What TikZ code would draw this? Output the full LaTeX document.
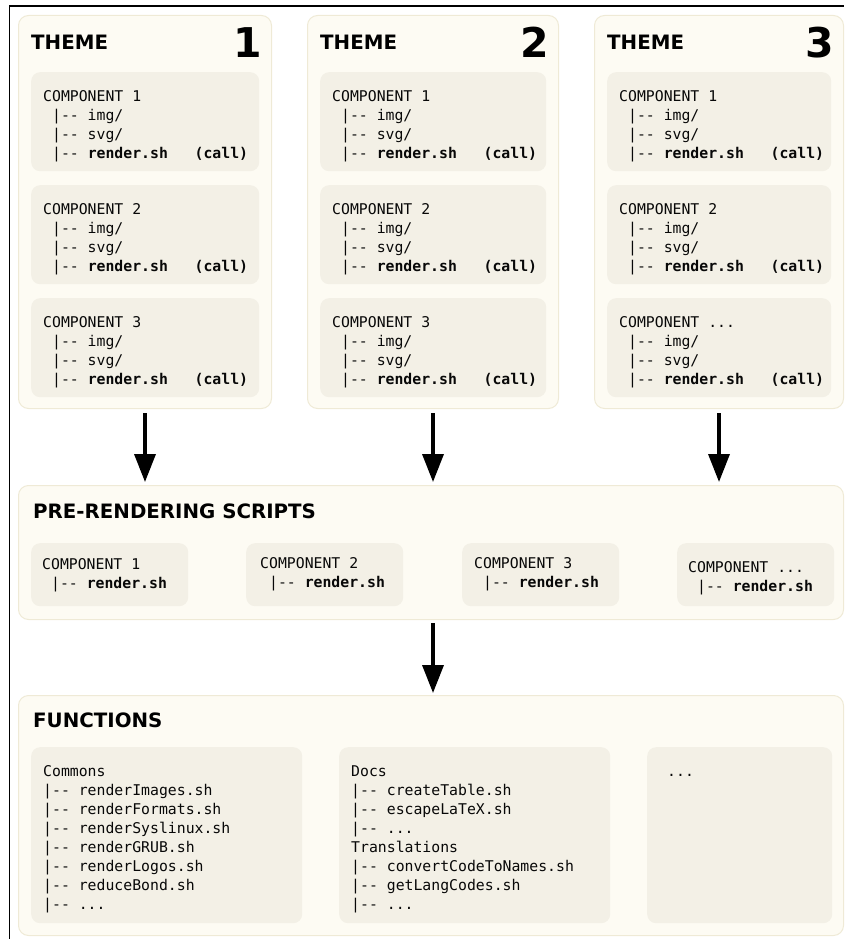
\documentclass[tikz,border=0pt]{standalone}
\usepackage{fontspec}
\setsansfont{DejaVu Sans}
\setmonofont{DejaVu Sans Mono}
\usetikzlibrary{arrows.meta}

\definecolor{themefill}{RGB}{253,251,243}
\definecolor{themeline}{RGB}{239,234,214}
\definecolor{compfill}{RGB}{243,240,230}

\newcommand{\mspc}{\hphantom{x}}
\newcommand{\etc}{...}
\newcommand{\branch}{|-\kern0pt-}

\begin{document}
\begin{tikzpicture}[x=1pt, y=-1pt,
    box/.style={draw=themeline, fill=themefill, line width=1pt, rounded corners=10pt, anchor=north west, inner sep=0pt},
    compbox/.style={fill=compfill, rounded corners=9pt, anchor=north west, inner sep=0pt},
    head/.style={font=\sffamily\bfseries\fontsize{19.8}{23}\selectfont, anchor=north west, inner sep=0pt},
    num/.style={font=\sffamily\bfseries\fontsize{41}{45}\selectfont, anchor=north east, inner sep=0pt},
    code/.style={font=\ttfamily\fontsize{14.8}{19}\selectfont, text=black!97, align=left, anchor=north west, inner sep=0pt},
    flow/.style={line width=3.5pt, -{Triangle[width=21pt,length=28pt]}}]
  \useasboundingbox (0,0) rectangle (844,939);
  \draw[line width=1.2pt] (9.5,939) -- (9.5,6) -- (844,6);

  % themes
  \foreach \n/\x/\w/\last in {1/18/253/3, 2/307/251/3, 3/594/249/\etc}{
    \node[box, minimum width=\w, minimum height=393] (theme\n) at (\x,15) {};
    \node[head] (theme\n-head) at (\x+13,35) {THEME};
    \node[num] (theme\n-num) at (\x+\w-9,27) {\n};
    \foreach \k/\lbl in {1/1, 2/2, 3/\last}{
      \pgfmathsetmacro{\y}{72+113*(\k-1)}
      \node[compbox, minimum width=\w-25, minimum height=99] (theme\n-c\k) at (\x+13,\y) {};
      \node[code] (theme\n-t\k) at (\x+25,\y+18) {COMPONENT \lbl\\
        \mspc\branch~img/\\
        \mspc\branch~svg/\\
        \mspc\branch~\textbf{render.sh}~~~\textbf{(call)}};
    }
  }

  % pre-rendering
  \node[box, minimum width=825, minimum height=134] (pre) at (18,485) {};
  \node[head] (pre-head) at (33,504) {PRE-RENDERING SCRIPTS};
  \foreach \k/\lbl/\bx/\tx/\ty in {1/1/31/42/558, 2/2/246/260/557, 3/3/462/474/557, 4/\etc/677/688/561}{
    \node[compbox, minimum width=157, minimum height=63] (pre-c\k) at (\bx,543) {};
    \node[code] (pre-t\k) at (\tx,\ty) {COMPONENT \lbl\\ \mspc\branch~\textbf{render.sh}};
  }

  \foreach \n in {1,2,3}
    \draw[flow, shorten <=4pt, shorten >=3pt] (theme\n.south) -- (theme\n.south |- pre.north);

  % functions
  \node[box, minimum width=825, minimum height=240] (fun) at (18,695) {};
  \node[head] (fun-head) at (33,713) {FUNCTIONS};
  \node[compbox, minimum width=271, minimum height=176] (fun-c1) at (31,747) {};
  \node[compbox, minimum width=271, minimum height=176] (fun-c2) at (339,747) {};
  \node[compbox, minimum width=185, minimum height=176] (fun-c3) at (647,747) {};
  \node[code] (fun-t1) at (43,765) {Commons\\
    \branch~renderImages.sh\\
    \branch~renderFormats.sh\\
    \branch~renderSyslinux.sh\\
    \branch~renderGRUB.sh\\
    \branch~renderLogos.sh\\
    \branch~reduceBond.sh\\
    \branch~\etc};
  \node[code] (fun-t2) at (351,765) {Docs\\
    \branch~createTable.sh\\
    \branch~escapeLaTeX.sh\\
    \branch~\etc\\
    Translations\\
    \branch~convertCodeToNames.sh\\
    \branch~getLangCodes.sh\\
    \branch~\etc};
  \node[code, anchor=base west] (fun-t3) at (667,776) {\etc};

  \draw[flow, shorten <=3pt, shorten >=2pt] (pre.south -| theme2.south) -- (fun.north -| theme2.south);
\end{tikzpicture}
\end{document}
